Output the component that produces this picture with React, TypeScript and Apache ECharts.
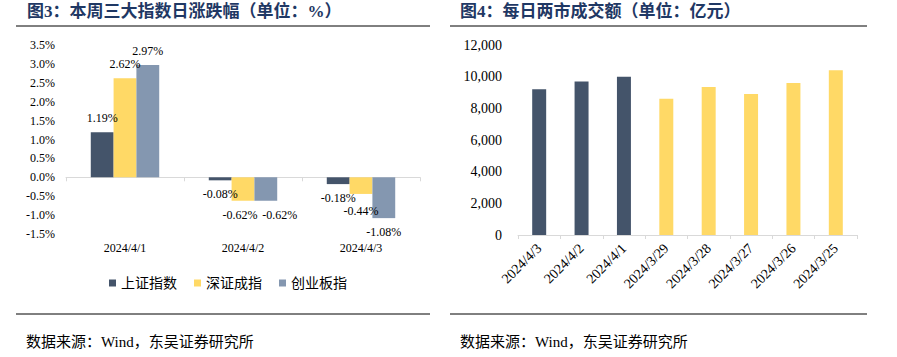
import React, { useEffect, useRef } from 'react';
import * as echarts from 'echarts';

// Left chart: daily change of the three major indices (%)
const dayCategories = ['2024/4/1', '2024/4/2', '2024/4/3'];
const seriesNames = ['上证指数', '深证成指', '创业板指'];
const shValues = [1.19, -0.08, -0.18];
const szValues = [2.62, -0.62, -0.44];
const cybValues = [2.97, -0.62, -1.08];

// Right chart: daily turnover of the two markets (100m CNY)
const turnoverDates = ['2024/4/3', '2024/4/2', '2024/4/1', '2024/3/29', '2024/3/28', '2024/3/27', '2024/3/26', '2024/3/25'];
const turnoverValues = [9200, 9700, 10000, 8600, 9350, 8900, 9600, 10400];
const thisWeekCount = 3;

const title3 = '图3：本周三大指数日涨跌幅（单位：%）';
const title4 = '图4：每日两市成交额（单位：亿元）';
const sourceText = '数据来源：Wind，东吴证券研究所';

const FONT = "'Liberation Serif', 'Noto Sans CJK SC', serif";
const COLORS = ['#44546A', '#FFD966', '#8497B0'];
const AXIS_GRAY = '#D9D9D9';
const TITLE_COLOR = '#1F3864';

const PCT_MIN = -1.5;
const PCT_MAX = 3.5;
const LEFT_PLOT_H = 189;

export default function App() {
  const ref = useRef<HTMLDivElement>(null);
  useEffect(() => {
    if (!ref.current) return;
    const chart = echarts.init(ref.current, undefined, { renderer: 'svg' });
    const allSeries = [shValues, szValues, cybValues];
    const pxPerUnit = LEFT_PLOT_H / (PCT_MAX - PCT_MIN);
    // nudge labels apart when neighbouring bars would make their labels collide
    const mkData = (arr: number[], si: number) =>
      arr.map((v, j) => {
        let dx = 0;
        let dy = 0;
        if (si > 0 && allSeries[si - 1][j] === v) dx = 14;
        else if (si < allSeries.length - 1 && allSeries[si + 1][j] === v) dx = -3;
        if (si > 0) {
          const prev = allSeries[si - 1][j];
          const gap = Math.abs(v - prev) * pxPerUnit;
          if (prev !== v && Math.sign(prev) === Math.sign(v) && Math.abs(v) > Math.abs(prev) && gap < 12.5) {
            dy = (12.5 - gap) * (v < 0 ? 1 : -1);
          }
        }
        return { value: v, label: { position: v < 0 ? 'bottom' : 'top', offset: [dx, dy] } };
      });

    chart.setOption({
      animation: false,
      textStyle: { fontFamily: FONT },
      legend: {
        data: seriesNames,
        left: 104,
        top: 271,
        icon: 'rect',
        itemWidth: 7,
        itemHeight: 7,
        itemGap: 17,
        textStyle: { fontFamily: FONT, fontSize: 14, color: '#000' },
      },
      grid: [
        { left: 66, top: 45, width: 354, height: LEFT_PLOT_H },
        { left: 518, top: 45, width: 339, height: 190 },
      ],
      xAxis: [
        {
          type: 'category',
          gridIndex: 0,
          data: dayCategories,
          position: 'bottom',
          axisLine: { onZero: true, lineStyle: { color: AXIS_GRAY, width: 1 } },
          axisTick: { show: true, length: 4, lineStyle: { color: AXIS_GRAY } },
          axisLabel: { show: false },
        },
        {
          type: 'category',
          gridIndex: 0,
          data: dayCategories,
          position: 'bottom',
          axisLine: { show: false, onZero: false },
          axisTick: { show: false },
          axisLabel: { margin: 8, fontSize: 12, color: '#000', fontFamily: FONT },
        },
        {
          type: 'category',
          gridIndex: 1,
          data: turnoverDates,
          axisLine: { lineStyle: { color: AXIS_GRAY, width: 1 } },
          axisTick: { show: true, length: 4, lineStyle: { color: AXIS_GRAY } },
          axisLabel: { rotate: 45, margin: 11, fontSize: 14, color: '#000', fontFamily: FONT, interval: 0 },
        },
      ],
      yAxis: [
        {
          type: 'value',
          gridIndex: 0,
          min: PCT_MIN,
          max: PCT_MAX,
          interval: 0.5,
          axisLine: { show: false },
          axisTick: { show: false },
          splitLine: { show: false },
          axisLabel: {
            margin: 11,
            fontSize: 12,
            color: '#000',
            fontFamily: FONT,
            formatter: (v: number) => v.toFixed(1) + '%',
          },
        },
        {
          type: 'value',
          gridIndex: 1,
          min: 0,
          max: 12000,
          interval: 2000,
          axisLine: { show: false },
          axisTick: { show: false },
          splitLine: { show: false },
          axisLabel: {
            margin: 16,
            fontSize: 14,
            color: '#000',
            fontFamily: FONT,
            formatter: (v: number) => v.toLocaleString('en-US'),
          },
        },
      ],
      series: [
        ...allSeries.map((arr, i) => ({
          name: seriesNames[i],
          type: 'bar',
          xAxisIndex: 0,
          yAxisIndex: 0,
          data: mkData(arr, i),
          barGap: '0%',
          barCategoryGap: '42%',
          itemStyle: { color: COLORS[i] },
          label: {
            show: true,
            distance: 8,
            fontSize: 12,
            color: '#000',
            fontFamily: FONT,
            formatter: (p: any) => Number(p.value).toFixed(2) + '%',
          },
        })),
        {
          name: '成交额',
          type: 'bar',
          xAxisIndex: 2,
          yAxisIndex: 1,
          data: turnoverValues,
          barWidth: '33%',
          itemStyle: {
            color: (p: any) => (p.dataIndex < thisWeekCount ? COLORS[0] : COLORS[1]),
          },
        },
      ],
      graphic: [
        {
          type: 'text',
          left: 27,
          top: 3,
          style: { text: title3, fontSize: 17, fontWeight: 'bold', fontFamily: FONT, fill: TITLE_COLOR },
        },
        {
          type: 'text',
          left: 460,
          top: 3,
          style: { text: title4, fontSize: 17, fontWeight: 'bold', fontFamily: FONT, fill: TITLE_COLOR },
        },
        { type: 'line', shape: { x1: 16, y1: 26, x2: 430, y2: 26 }, style: { stroke: '#000', lineWidth: 1 } },
        { type: 'line', shape: { x1: 450, y1: 26, x2: 867, y2: 26 }, style: { stroke: '#000', lineWidth: 1 } },
        { type: 'line', shape: { x1: 16, y1: 314, x2: 430, y2: 314 }, style: { stroke: '#000', lineWidth: 1 } },
        { type: 'line', shape: { x1: 450, y1: 314, x2: 867, y2: 314 }, style: { stroke: '#000', lineWidth: 1 } },
        {
          type: 'text',
          left: 26,
          top: 334,
          style: { text: sourceText, fontSize: 15, fontFamily: FONT, fill: '#000' },
        },
        {
          type: 'text',
          left: 460,
          top: 334,
          style: { text: sourceText, fontSize: 15, fontFamily: FONT, fill: '#000' },
        },
      ],
    });
    return () => chart.dispose();
  }, []);
  return (
    <div
      ref={ref}
      style={{ position: 'absolute', left: 0, top: 0, width: 897, height: 357, background: '#fff' }}
    />
  );
}
